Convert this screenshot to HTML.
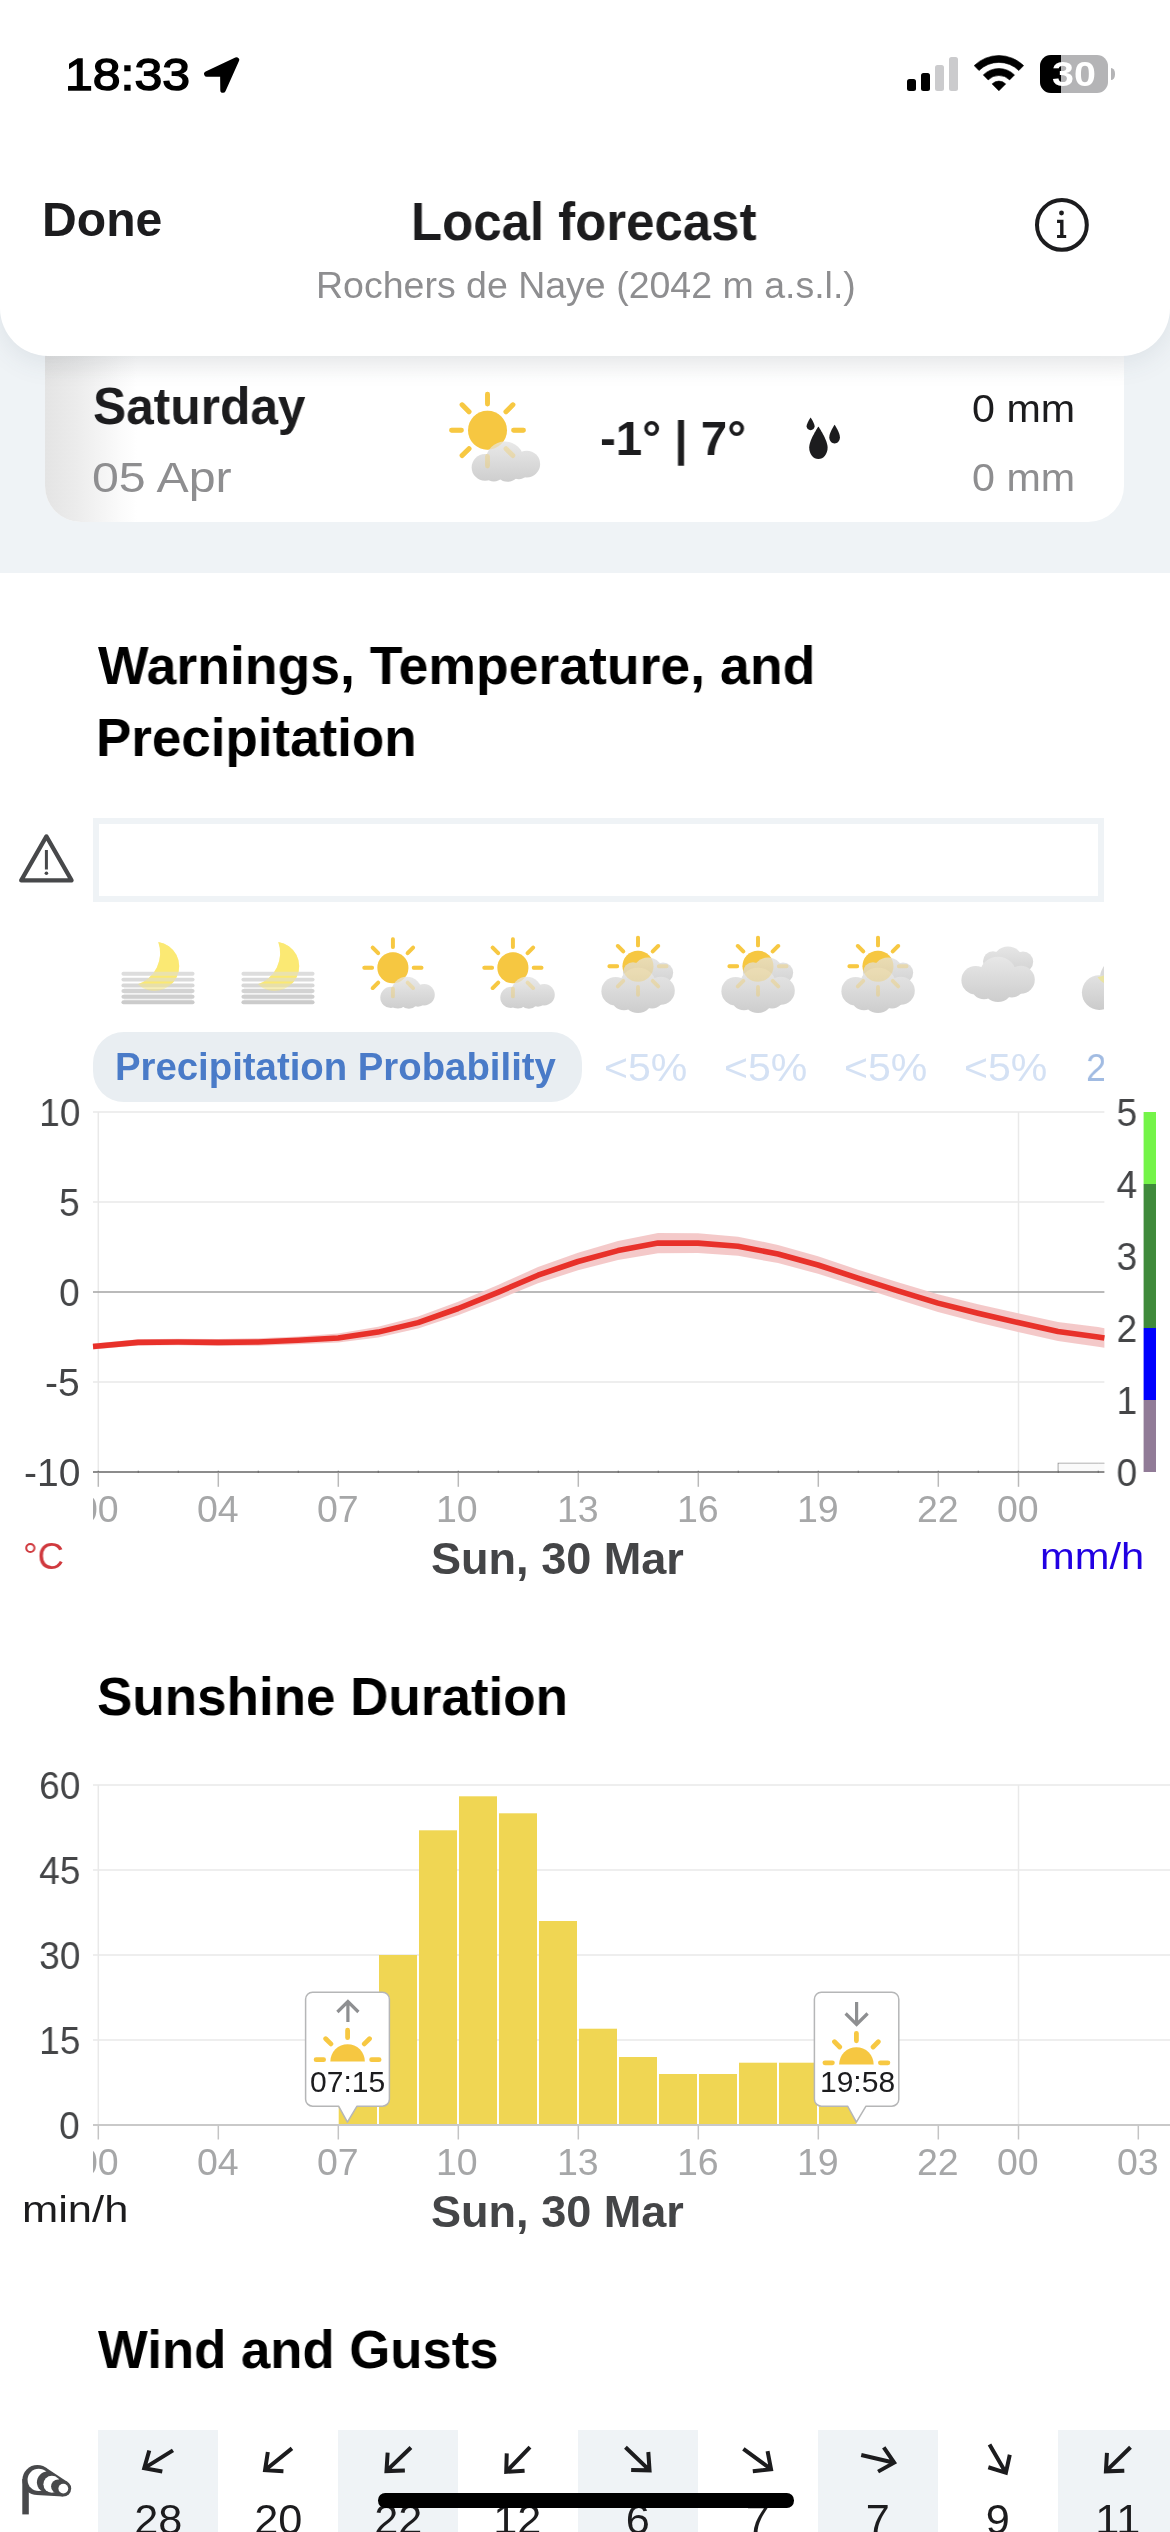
<!DOCTYPE html>
<html><head><meta charset="utf-8"><title>Local forecast</title>
<style>
html,body{margin:0;padding:0;background:#fff}
html{width:1170px;height:2532px;overflow:hidden}
body{width:1170px;height:2532px;position:relative;overflow:hidden;font-family:"Liberation Sans",sans-serif}
.w{position:absolute;left:0;top:0;width:1170px;height:2532px;overflow:hidden}
.t{position:absolute;white-space:nowrap;line-height:1;transform-origin:left center;will-change:transform}
</style></head><body>
<div class="w">
<div style="position:absolute;left:0;top:300px;width:1170px;height:272.800px;background:#eff3f6"></div>
<div style="position:absolute;left:45px;top:330px;width:1079px;height:191.5px;background:#fff;border-radius:0 0 36px 36px;overflow:hidden"><div style="position:absolute;left:0;top:0;width:92px;height:100%;background:linear-gradient(90deg,#e4e4e4 0%,#ececec 35%,#fafafa 80%,#fff 100%)"></div><div style="position:absolute;left:0;top:25px;width:100%;height:26px;background:linear-gradient(180deg,rgba(0,0,0,0.035),rgba(0,0,0,0))"></div></div>
<div style="position:absolute;left:0;top:-60px;width:1170px;height:415.5px;background:#fff;border-radius:0 0 48px 48px;box-shadow:0 6px 28px rgba(60,80,100,0.10)"></div>
<div class="t" style="left:65.11px;top:52.75px;font-size:44px;color:#000;transform:scaleX(1.1362);-webkit-text-stroke:1.400px #000;">18:33</div>
<svg style="position:absolute;left:203px;top:55px" width="40" height="40" viewBox="0 0 40 40"><path d="M33.500 4.900 L3.800 19 L19.800 19.100 L20 35.100 Z" fill="#000" stroke="#000" stroke-width="5.400" stroke-linejoin="round"/></svg>
<div style="position:absolute;left:907px;top:78.8px;width:9.3px;height:11.8px;background:#000;border-radius:2.5px"></div>
<div style="position:absolute;left:921.1px;top:73.3px;width:9.3px;height:17.3px;background:#000;border-radius:2.5px"></div>
<div style="position:absolute;left:935.1px;top:65.1px;width:9.3px;height:25.5px;background:#cbcbcd;border-radius:2.5px"></div>
<div style="position:absolute;left:949px;top:56.9px;width:9.3px;height:33.7px;background:#cbcbcd;border-radius:2.5px"></div>
<svg style="position:absolute;left:974px;top:53px" width="50" height="40" viewBox="0 0 50 40"><path d="M0.16 12.62A35.3 35.3 0 0 1 49.64 12.62L44.81 17.54A28.4 28.4 0 0 0 4.99 17.54ZM9.27 21.89A22.3 22.3 0 0 1 40.53 21.89L35.62 26.89A15.3 15.3 0 0 0 14.18 26.89ZM18.10 30.88A9.7 9.7 0 0 1 31.70 30.88L24.9 37.8Z" fill="#000" stroke="#000" stroke-width="0.600" stroke-linejoin="round"/></svg>
<div style="position:absolute;left:1040px;top:55px;width:68px;height:37.6px;border-radius:11px;background:#b4b4b6;overflow:hidden"><div style="position:absolute;left:0;top:0;width:20.5px;height:100%;background:#000"></div></div>
<div style="position:absolute;left:1111.200px;top:68.100px;width:4.300px;height:11.900px;background:#b4b4b6;border-radius:0 4.300px 4.300px 0 / 0 5.950px 5.950px 0"></div>
<div class="t" style="left:1051.54px;top:57.15px;font-size:34.2px;font-weight:700;color:#fff;transform:scaleX(1.1528);">30</div>
<div class="t" style="left:41.97px;top:195.57px;font-size:48px;font-weight:700;color:#1c1c1e;transform:scaleX(1.0022);">Done</div>
<div class="t" style="left:411.40px;top:193.79px;font-size:54px;font-weight:700;color:#1c1c1e;transform:scaleX(0.9436);">Local forecast</div>
<div class="t" style="left:315.51px;top:267.26px;font-size:37.5px;color:#8e8e90;">Rochers de Naye (2042 m a.s.l.)</div>
<svg style="position:absolute;left:1031px;top:194px" width="62" height="62" viewBox="0 0 62 62"><circle cx="30.900" cy="30.900" r="24.900" fill="none" stroke="#1c1c1e" stroke-width="4"/><circle cx="30.500" cy="19" r="2.450" fill="#1c1c1e"/><path d="M26.050 25.700H32.500V41.100H35.200V44H26.050V41.100H29.100V28.900H26.050Z" fill="#1c1c1e"/></svg>
<div class="t" style="left:93.27px;top:380.38px;font-size:52px;font-weight:700;color:#1c1c1e;transform:scaleX(0.9553);">Saturday</div>
<div class="t" style="left:92.48px;top:455.90px;font-size:43px;color:#8e8e90;transform:scaleX(1.1230);">05 Apr</div>
<div class="t" style="left:600.08px;top:413.92px;font-size:49px;font-weight:700;color:#1c1c1e;transform:scaleX(0.9687);">-1° | 7°</div>
<div class="t" style="left:971.51px;top:390.13px;font-size:38px;color:#1c1c1e;transform:scaleX(1.0849);">0 mm</div>
<div class="t" style="left:971.51px;top:458.53px;font-size:38px;color:#8e8e90;transform:scaleX(1.0849);">0 mm</div>
<svg width="0" height="0" style="position:absolute"><defs>
<linearGradient id="cgs" gradientUnits="userSpaceOnUse" x1="0" y1="9" x2="0" y2="41"><stop offset="0" stop-color="#e9e9e9"/><stop offset="1" stop-color="#cecece"/></linearGradient>
<linearGradient id="cg" gradientUnits="userSpaceOnUse" x1="0" y1="0" x2="0" y2="47"><stop offset="0" stop-color="#e8e8e8"/><stop offset="1" stop-color="#cdcdcd"/></linearGradient>
<linearGradient id="cg2" gradientUnits="userSpaceOnUse" x1="0" y1="-9" x2="0" y2="22"><stop offset="0" stop-color="#e6e6e6"/><stop offset="1" stop-color="#cfcfcf"/></linearGradient>
<linearGradient id="cgp" gradientUnits="userSpaceOnUse" x1="0" y1="975" x2="0" y2="1010"><stop offset="0" stop-color="#e2e2e2"/><stop offset="1" stop-color="#cbcbcb"/></linearGradient>
<g id="sun"><circle cx="0" cy="0" r="15.500" fill="#f6c741"/><path d="M20.80 0.00L28.60 0.00M14.71 -14.71L20.22 -20.22M0.00 -20.80L0.00 -28.60M-14.71 -14.71L-20.22 -20.22M-20.80 0.00L-28.60 0.00M-14.71 14.71L-20.22 20.22M0.00 20.80L0.00 28.60M14.71 14.71L20.22 20.22" stroke="#f7c842" stroke-width="3.900" stroke-linecap="round" fill="none"/></g>
<g id="smallcloud"><circle cx="-2" cy="29.600" r="10.600"/><circle cx="13.800" cy="24.200" r="15.200"/><circle cx="31.200" cy="27" r="10.700"/><circle cx="5" cy="31.500" r="9.300"/><circle cx="16" cy="31.300" r="9.700"/><circle cx="25" cy="30.500" r="8.500"/></g>
<g id="suncloud">
 <use href="#sun"/>
 <use href="#smallcloud" fill="url(#cgs)"/>
 <use href="#sun" opacity="0.3"/>
</g>
<g id="bigcloudshape"><circle cx="-22.300" cy="25" r="14.300"/><circle cx="0" cy="20" r="18.500"/><circle cx="22.800" cy="24.600" r="14"/><circle cx="0" cy="32" r="14.800"/><circle cx="-14" cy="31" r="13"/><circle cx="14" cy="29.700" r="12.500"/></g>
<g id="backcloudshape"><circle cx="10" cy="7" r="15.600"/><circle cx="-5" cy="6" r="10"/><circle cx="25" cy="6.500" r="10.200"/><rect x="-5" y="6" width="30" height="12"/></g>
<g id="sunbigcloud">
 <use href="#sun"/>
 <use href="#backcloudshape" fill="url(#cg2)"/>
 <use href="#bigcloudshape" fill="url(#cg)"/>
 <use href="#sun" opacity="0.3"/>
</g>
<g id="cloudonly">
 <use href="#backcloudshape" fill="url(#cg2)"/>
 <use href="#bigcloudshape" fill="url(#cg)"/>
</g>
<g id="moon"><path d="M0.300 -24 A24.600 24.600 0 1 1 -20.200 18.300 A33 33 0 0 0 0.300 -24 Z" fill="#fbe974"/></g>
<g id="moonfog">
 <use href="#moon"/>
 <rect x="-34" y="20.500" width="68" height="17" fill="#f3f3f3"/>
 <g stroke-width="3.900" stroke-linecap="round">
 <path d="M-34.600 7.800H34.600" stroke="#dddddd"/><path d="M-34.600 13.600H34.600" stroke="#dadada"/><path d="M-34.600 19.400H34.600" stroke="#d7d7d7"/>
 <path d="M-34.600 25H34.600" stroke="#d3d3d3"/><path d="M-34.600 30.700H34.600" stroke="#cfcfcf"/><path d="M-34.600 36.200H34.600" stroke="#cbcbcb"/></g>
 <use href="#moon" opacity="0.45"/>
</g>
</defs></svg>
<svg style="position:absolute;left:430px;top:370px" width="140" height="140" viewBox="0 0 140 140"><use href="#suncloud" transform="translate(57.500 60.200) scale(1.256)"/></svg>
<svg style="position:absolute;left:800px;top:410px" width="50" height="56" viewBox="0 0 50 56"><path d="M18.400 16.500 C18.400 16.500 9.200 30 9.200 37.400 C9.200 44 13.300 49 18.400 49 C23.500 49 27.600 44 27.600 37.400 C27.600 30 18.400 16.500 18.400 16.500 Z" fill="#1c1c1e"/><path d="M10.600 7.600 C10.600 7.600 6.600 13.500 6.600 16.300 C6.600 18.600 8.400 20.200 10.600 20.200 C12.800 20.200 14.600 18.600 14.600 16.300 C14.600 13.500 10.600 7.600 10.600 7.600 Z" fill="#1c1c1e"/><path d="M34.600 14.800 C34.600 14.800 29.300 22.800 29.300 27.200 C29.300 30.800 31.700 33.400 34.600 33.400 C37.500 33.400 39.900 30.800 39.900 27.200 C39.900 22.800 34.600 14.800 34.600 14.800 Z" fill="#1c1c1e"/></svg>
<div class="t" style="left:97.50px;top:637.99px;font-size:54px;font-weight:700;color:#000;transform:scaleX(0.9919);">Warnings, Temperature, and</div>
<div class="t" style="left:96.07px;top:709.79px;font-size:54px;font-weight:700;color:#000;transform:scaleX(0.9804);">Precipitation</div>
<svg style="position:absolute;left:14px;top:828px" width="66" height="60" viewBox="0 0 66 60"><path d="M32.400 8.400 L57.600 52.400 H7.200 Z" fill="none" stroke="#47484a" stroke-width="4.200" stroke-linejoin="round"/><path d="M32.400 22 V41.500" stroke="#47484a" stroke-width="3" fill="none"/><circle cx="32.400" cy="45.300" r="1.800" fill="#47484a"/></svg>
<div style="position:absolute;left:93px;top:818px;width:1011px;height:84px;box-sizing:border-box;border:6px solid #eff3f6;background:#fff"></div>
<svg style="position:absolute;left:93px;top:925px" width="1011" height="100" viewBox="93 925 1011 100"><use href="#moonfog" transform="translate(158 966)"/><use href="#moonfog" transform="translate(278 966)"/><use href="#suncloud" transform="translate(392.9 967.800)"/><use href="#suncloud" transform="translate(512.9 967.800)"/><use href="#sunbigcloud" transform="translate(638 966.200)"/><use href="#sunbigcloud" transform="translate(758 966.200)"/><use href="#sunbigcloud" transform="translate(878 966.200)"/><use href="#cloudonly" transform="translate(998 955.200)"/><path d="M1100 976 C1100.800 971 1102.500 968 1104 966 V980 H1100 Z" fill="#d9d9d9"/><circle cx="1099.200" cy="992.600" r="17.300" fill="url(#cgp)"/><path d="M1097.600 977.300 L1104 975.600 V983 C1101 981.500 1099 979.500 1097.600 977.300 Z" fill="#e9e3a2"/></svg>
<div style="position:absolute;left:92.500px;top:1032px;width:489.700px;height:70.400px;border-radius:31px;background:#e9eef2"></div>
<div class="t" style="left:115.48px;top:1048.03px;font-size:38px;font-weight:700;color:#4a7bc8;transform:scaleX(1.0087);">Precipitation Probability</div>
<div class="t" style="left:604.05px;top:1048.06px;font-size:39.5px;color:#d4e1f4;transform:scaleX(1.0393);">&lt;5%</div>
<div class="t" style="left:724.05px;top:1048.06px;font-size:39.5px;color:#d4e1f4;transform:scaleX(1.0393);">&lt;5%</div>
<div class="t" style="left:844.05px;top:1048.06px;font-size:39.5px;color:#d4e1f4;transform:scaleX(1.0393);">&lt;5%</div>
<div class="t" style="left:964.05px;top:1048.06px;font-size:39.5px;color:#d4e1f4;transform:scaleX(1.0393);">&lt;5%</div>
<div style="position:absolute;left:1080px;top:1040px;width:24px;height:60px;overflow:hidden"><div class="t" style="left:6px;top:8.100px;font-size:39.500px;color:#a1bbe2;transform:scaleX(0.93)">25%</div></div>
<svg style="position:absolute;left:0;top:1100px" width="1170" height="400" viewBox="0 1100 1170 400"><path d="M93 1112H1104.400" stroke="#e9e9e9" stroke-width="1.600"/><path d="M93 1202H1104.400" stroke="#e9e9e9" stroke-width="1.600"/><path d="M93 1382H1104.400" stroke="#e9e9e9" stroke-width="1.600"/><path d="M98.300 1112V1472" stroke="#e9e9e9" stroke-width="1.500"/><path d="M1018.500 1112V1472" stroke="#e9e9e9" stroke-width="1.500"/><path d="M93 1292H1104.400" stroke="#a3a3a3" stroke-width="1.700"/><polygon points="93.0,1343.6 138.1,1339.3 178.1,1338.7 218.1,1338.9 258.1,1338.3 298.1,1336.4 338.1,1333.4 378.1,1326.8 418.1,1316.6 458.1,1301.8 498.0,1284.9 538.0,1267.1 578.0,1252.7 618.0,1241.1 658.0,1232.9 698.0,1233.2 738.0,1236.7 778.0,1244.9 818.0,1256.2 858.0,1269.7 898.0,1282.2 938.0,1294.3 978.0,1304.2 1018.0,1313.3 1058.0,1322.0 1098.0,1327.1 1104.4,1328.2 1104.4,1347.8 1098.0,1346.7 1058.0,1341.0 1018.0,1331.9 978.0,1322.4 938.0,1311.9 898.0,1299.4 858.0,1286.5 818.0,1273.8 778.0,1263.1 738.0,1255.7 698.0,1253.0 658.0,1253.3 618.0,1260.1 578.0,1270.3 538.0,1283.3 498.0,1299.7 458.1,1315.2 418.1,1328.6 378.1,1337.4 338.1,1342.6 298.1,1344.2 258.1,1345.7 218.1,1345.9 178.1,1345.3 138.1,1345.5 93.0,1349.4" fill="#f3c4c4" opacity="0.92"/><polyline points="93.0,1346.5 138.1,1342.4 178.1,1342.0 218.1,1342.4 258.1,1342.0 298.1,1340.3 338.1,1338.0 378.1,1332.1 418.1,1322.6 458.1,1308.5 498.0,1292.3 538.0,1275.2 578.0,1261.5 618.0,1250.6 658.0,1243.1 698.0,1243.1 738.0,1246.2 778.0,1254.0 818.0,1265.0 858.0,1278.1 898.0,1290.8 938.0,1303.1 978.0,1313.3 1018.0,1322.6 1058.0,1331.5 1098.0,1336.9 1104.4,1338.0" fill="none" stroke="#e8312a" stroke-width="5.600" stroke-linejoin="round"/><path d="M1058.200 1472V1463.200H1104.400" fill="none" stroke="#9a9a9a" stroke-width="1.100"/><path d="M1098.700 1463.200V1472" stroke="#bdbdbd" stroke-width="1"/><rect x="1058.700" y="1463.700" width="45.700" height="8" fill="#fafafa"/><path d="M93 1472H1104.400" stroke="#8c8c8c" stroke-width="1.800"/><path d="M98.3 1470.800V1473" stroke="#707070" stroke-width="1.200"/><path d="M138.3 1470.800V1473" stroke="#707070" stroke-width="1.200"/><path d="M178.3 1470.800V1473" stroke="#707070" stroke-width="1.200"/><path d="M218.3 1470.800V1473" stroke="#707070" stroke-width="1.200"/><path d="M258.3 1470.800V1473" stroke="#707070" stroke-width="1.200"/><path d="M298.3 1470.800V1473" stroke="#707070" stroke-width="1.200"/><path d="M338.3 1470.800V1473" stroke="#707070" stroke-width="1.200"/><path d="M378.3 1470.800V1473" stroke="#707070" stroke-width="1.200"/><path d="M418.3 1470.800V1473" stroke="#707070" stroke-width="1.200"/><path d="M458.3 1470.800V1473" stroke="#707070" stroke-width="1.200"/><path d="M498.3 1470.800V1473" stroke="#707070" stroke-width="1.200"/><path d="M538.3 1470.800V1473" stroke="#707070" stroke-width="1.200"/><path d="M578.3 1470.800V1473" stroke="#707070" stroke-width="1.200"/><path d="M618.3 1470.800V1473" stroke="#707070" stroke-width="1.200"/><path d="M658.3 1470.800V1473" stroke="#707070" stroke-width="1.200"/><path d="M698.3 1470.800V1473" stroke="#707070" stroke-width="1.200"/><path d="M738.3 1470.800V1473" stroke="#707070" stroke-width="1.200"/><path d="M778.3 1470.800V1473" stroke="#707070" stroke-width="1.200"/><path d="M818.3 1470.800V1473" stroke="#707070" stroke-width="1.200"/><path d="M858.3 1470.800V1473" stroke="#707070" stroke-width="1.200"/><path d="M898.3 1470.800V1473" stroke="#707070" stroke-width="1.200"/><path d="M938.3 1470.800V1473" stroke="#707070" stroke-width="1.200"/><path d="M978.3 1470.800V1473" stroke="#707070" stroke-width="1.200"/><path d="M1018.3 1470.800V1473" stroke="#707070" stroke-width="1.200"/><path d="M1058.3 1470.800V1473" stroke="#707070" stroke-width="1.200"/><path d="M1098.3 1470.800V1473" stroke="#707070" stroke-width="1.200"/><path d="M98.3 1472.500V1486.800" stroke="#b9b9b9" stroke-width="1.500"/><path d="M218.3 1472.500V1486.800" stroke="#b9b9b9" stroke-width="1.500"/><path d="M338.3 1472.500V1486.800" stroke="#b9b9b9" stroke-width="1.500"/><path d="M458.3 1472.500V1486.800" stroke="#b9b9b9" stroke-width="1.500"/><path d="M578.3 1472.500V1486.800" stroke="#b9b9b9" stroke-width="1.500"/><path d="M698.3 1472.500V1486.800" stroke="#b9b9b9" stroke-width="1.500"/><path d="M818.3 1472.500V1486.800" stroke="#b9b9b9" stroke-width="1.500"/><path d="M938.3 1472.500V1486.800" stroke="#b9b9b9" stroke-width="1.500"/><path d="M1018.5 1472.500V1486.800" stroke="#b9b9b9" stroke-width="1.500"/><rect x="1143.600" y="1112" width="12.400" height="72" fill="#74f448"/><rect x="1143.600" y="1184" width="12.400" height="144" fill="#3f8a3b"/><rect x="1143.600" y="1328" width="12.400" height="72" fill="#0000fe"/><rect x="1143.600" y="1400" width="12.400" height="72" fill="#917b97"/></svg>
<div class="t" style="left:36.60px;top:1092.69px;font-size:39px;color:#444547;transform-origin:right center;transform:scaleX(0.95);">10</div>
<div class="t" style="left:58.47px;top:1182.69px;font-size:39px;color:#444547;transform-origin:right center;transform:scaleX(0.95);">5</div>
<div class="t" style="left:58.35px;top:1272.69px;font-size:39px;color:#444547;transform-origin:right center;transform:scaleX(0.95);">0</div>
<div class="t" style="left:45.47px;top:1362.69px;font-size:39px;color:#444547;transform-origin:right center;transform:scaleX(1.0);">-5</div>
<div class="t" style="left:23.72px;top:1452.69px;font-size:39px;color:#444547;transform-origin:right center;transform:scaleX(1.0);">-10</div>
<div class="t" style="left:1116.19px;top:1092.69px;font-size:39px;color:#444547;transform-origin:center;transform:scaleX(0.95);">5</div>
<div class="t" style="left:1116.25px;top:1164.69px;font-size:39px;color:#444547;transform-origin:center;transform:scaleX(0.95);">4</div>
<div class="t" style="left:1116.31px;top:1236.69px;font-size:39px;color:#444547;transform-origin:center;transform:scaleX(0.95);">3</div>
<div class="t" style="left:1116.19px;top:1308.69px;font-size:39px;color:#444547;transform-origin:center;transform:scaleX(0.95);">2</div>
<div class="t" style="left:1115.62px;top:1380.69px;font-size:39px;color:#444547;transform-origin:center;transform:scaleX(0.95);">1</div>
<div class="t" style="left:1116.12px;top:1452.69px;font-size:39px;color:#444547;transform-origin:center;transform:scaleX(0.95);">0</div>
<div style="position:absolute;left:93px;top:1483px;width:1011px;height:60px;overflow:hidden"><div class="t" style="left:-15.88px;top:8.26px;font-size:37.500px;color:#a6a7a8;transform-origin:center;transform:scaleX(1.0)">00</div><div class="t" style="left:103.94px;top:8.26px;font-size:37.500px;color:#a6a7a8;transform-origin:center;transform:scaleX(1.0)">04</div><div class="t" style="left:224.38px;top:8.26px;font-size:37.500px;color:#a6a7a8;transform-origin:center;transform:scaleX(1.0)">07</div><div class="t" style="left:343.44px;top:8.26px;font-size:37.500px;color:#a6a7a8;transform-origin:center;transform:scaleX(1.0)">10</div><div class="t" style="left:463.56px;top:8.26px;font-size:37.500px;color:#a6a7a8;transform-origin:center;transform:scaleX(1.0)">13</div><div class="t" style="left:583.56px;top:8.26px;font-size:37.500px;color:#a6a7a8;transform-origin:center;transform:scaleX(1.0)">16</div><div class="t" style="left:703.62px;top:8.26px;font-size:37.500px;color:#a6a7a8;transform-origin:center;transform:scaleX(1.0)">19</div><div class="t" style="left:824.12px;top:8.26px;font-size:37.500px;color:#a6a7a8;transform-origin:center;transform:scaleX(1.0)">22</div><div class="t" style="left:904.12px;top:8.26px;font-size:37.500px;color:#a6a7a8;transform-origin:center;transform:scaleX(1.0)">00</div></div>
<div class="t" style="left:23.23px;top:1537.96px;font-size:37.5px;color:#d0393e;transform:scaleX(0.9735);">°C</div>
<div class="t" style="left:430.93px;top:1537.13px;font-size:44.5px;font-weight:700;color:#444547;transform:scaleX(1.0125);">Sun, 30 Mar</div>
<div class="t" style="left:1040.49px;top:1539.10px;font-size:36.5px;color:#2100e2;transform:scaleX(1.1417);">mm/h</div>
<div class="t" style="left:96.93px;top:1668.69px;font-size:54px;font-weight:700;color:#000;transform:scaleX(0.9812);">Sunshine Duration</div>
<svg style="position:absolute;left:0;top:1770px" width="1170" height="380" viewBox="0 1770 1170 380"><path d="M93 1785H1170" stroke="#e9e9e9" stroke-width="1.600"/><path d="M93 1870H1170" stroke="#e9e9e9" stroke-width="1.600"/><path d="M93 1955H1170" stroke="#e9e9e9" stroke-width="1.600"/><path d="M93 2040H1170" stroke="#e9e9e9" stroke-width="1.600"/><path d="M98.300 1785V2125" stroke="#e9e9e9" stroke-width="1.500"/><path d="M1018.500 1785V2125" stroke="#e9e9e9" stroke-width="1.500"/><rect x="338.7" y="2096.7" width="38.3" height="28.3" fill="#f0d653"/><rect x="379.0" y="1955.0" width="38.0" height="170.0" fill="#f0d653"/><rect x="419.0" y="1830.3" width="38.0" height="294.7" fill="#f0d653"/><rect x="459.0" y="1796.3" width="38.0" height="328.7" fill="#f0d653"/><rect x="499.0" y="1813.3" width="38.0" height="311.7" fill="#f0d653"/><rect x="539.0" y="1921.0" width="38.0" height="204.0" fill="#f0d653"/><rect x="579.0" y="2028.7" width="38.0" height="96.3" fill="#f0d653"/><rect x="619.0" y="2057.0" width="38.0" height="68.0" fill="#f0d653"/><rect x="659.0" y="2074.0" width="38.0" height="51.0" fill="#f0d653"/><rect x="699.0" y="2074.0" width="38.0" height="51.0" fill="#f0d653"/><rect x="739.0" y="2062.7" width="38.0" height="62.3" fill="#f0d653"/><rect x="779.0" y="2062.7" width="38.0" height="62.3" fill="#f0d653"/><path d="M819 2125V2085H848L856.400 2122.600V2125Z" fill="#f0d653"/><path d="M93 2125H1170" stroke="#c9c9c9" stroke-width="1.800"/><path d="M98.3 2125.500V2139.500" stroke="#c4c4c4" stroke-width="1.500"/><path d="M218.3 2125.500V2139.500" stroke="#c4c4c4" stroke-width="1.500"/><path d="M338.3 2125.500V2139.500" stroke="#c4c4c4" stroke-width="1.500"/><path d="M458.3 2125.500V2139.500" stroke="#c4c4c4" stroke-width="1.500"/><path d="M578.3 2125.500V2139.500" stroke="#c4c4c4" stroke-width="1.500"/><path d="M698.3 2125.500V2139.500" stroke="#c4c4c4" stroke-width="1.500"/><path d="M818.3 2125.500V2139.500" stroke="#c4c4c4" stroke-width="1.500"/><path d="M938.3 2125.500V2139.500" stroke="#c4c4c4" stroke-width="1.500"/><path d="M1018.5 2125.500V2139.500" stroke="#c4c4c4" stroke-width="1.500"/><path d="M1138.3 2125.500V2139.500" stroke="#c4c4c4" stroke-width="1.500"/><path d="M312.6 1992.2H382.4A7 7 0 0 1 389.4 1999.2V2099.2A7 7 0 0 1 382.4 2106.2H357.0L347.4 2122.200L338.59999999999997 2106.2H312.6A7 7 0 0 1 305.6 2099.2V1999.2A7 7 0 0 1 312.6 1992.2Z" fill="#fff" stroke="#b5b6b7" stroke-width="1.500" stroke-linejoin="round"/><path d="M821.4 1992.2H891.8A7 7 0 0 1 898.8 1999.2V2099.2A7 7 0 0 1 891.8 2106.2H866.0L856.4 2122.200L847.6 2106.2H821.4A7 7 0 0 1 814.4 2099.2V1999.2A7 7 0 0 1 821.4 1992.2Z" fill="#fff" stroke="#b5b6b7" stroke-width="1.500" stroke-linejoin="round"/><path d="M330.3 2061.5A17.3 17.3 0 0 1 364.90000000000003 2061.5Z" fill="#f6c741"/><path d="M347.6 2030.2V2037.7M325.70000000000005 2038.7L330.90000000000003 2043.9M369.5 2038.7L364.3 2043.9M316.1 2059.7H323.6M379.1 2059.7H371.6" stroke="#f7c842" stroke-width="4.800" stroke-linecap="round" fill="none"/><path d="M839.1 2064.6A17.3 17.3 0 0 1 873.6999999999999 2064.6Z" fill="#f6c741"/><path d="M856.4 2033.3V2040.8M834.5 2041.8L839.6999999999999 2047.0M878.3 2041.8L873.1 2047.0M824.9 2062.7999999999997H832.4M887.9 2062.7999999999997H880.4" stroke="#f7c842" stroke-width="4.800" stroke-linecap="round" fill="none"/><path d="M347.900 2022V2002.500M337.400 2012L347.900 2001.500L358.400 2012" fill="none" stroke="#8e8f91" stroke-width="3.200"/><path d="M856.600 2002V2023.500M845.600 2013.500L856.600 2024.500L867.600 2013.500" fill="none" stroke="#8e8f91" stroke-width="3.200"/></svg>
<div class="t" style="left:36.60px;top:1765.69px;font-size:39px;color:#444547;transform-origin:right center;transform:scaleX(0.95);">60</div>
<div class="t" style="left:36.72px;top:1850.69px;font-size:39px;color:#444547;transform-origin:right center;transform:scaleX(0.95);">45</div>
<div class="t" style="left:36.60px;top:1935.69px;font-size:39px;color:#444547;transform-origin:right center;transform:scaleX(0.95);">30</div>
<div class="t" style="left:36.72px;top:2020.69px;font-size:39px;color:#444547;transform-origin:right center;transform:scaleX(0.95);">15</div>
<div class="t" style="left:58.35px;top:2105.69px;font-size:39px;color:#444547;transform-origin:right center;transform:scaleX(0.95);">0</div>
<div style="position:absolute;left:93px;top:2136px;width:1077px;height:60px;overflow:hidden"><div class="t" style="left:-15.88px;top:8.26px;font-size:37.500px;color:#a6a7a8;transform-origin:center;transform:scaleX(1.0)">00</div><div class="t" style="left:103.94px;top:8.26px;font-size:37.500px;color:#a6a7a8;transform-origin:center;transform:scaleX(1.0)">04</div><div class="t" style="left:224.38px;top:8.26px;font-size:37.500px;color:#a6a7a8;transform-origin:center;transform:scaleX(1.0)">07</div><div class="t" style="left:343.44px;top:8.26px;font-size:37.500px;color:#a6a7a8;transform-origin:center;transform:scaleX(1.0)">10</div><div class="t" style="left:463.56px;top:8.26px;font-size:37.500px;color:#a6a7a8;transform-origin:center;transform:scaleX(1.0)">13</div><div class="t" style="left:583.56px;top:8.26px;font-size:37.500px;color:#a6a7a8;transform-origin:center;transform:scaleX(1.0)">16</div><div class="t" style="left:703.62px;top:8.26px;font-size:37.500px;color:#a6a7a8;transform-origin:center;transform:scaleX(1.0)">19</div><div class="t" style="left:824.12px;top:8.26px;font-size:37.500px;color:#a6a7a8;transform-origin:center;transform:scaleX(1.0)">22</div><div class="t" style="left:904.12px;top:8.26px;font-size:37.500px;color:#a6a7a8;transform-origin:center;transform:scaleX(1.0)">00</div><div class="t" style="left:1024.25px;top:8.26px;font-size:37.500px;color:#a6a7a8;transform-origin:center;transform:scaleX(1.0)">03</div></div>
<div class="t" style="left:22.47px;top:2191.50px;font-size:36.5px;color:#1c1c1e;transform:scaleX(1.1911);">min/h</div>
<div class="t" style="left:430.93px;top:2189.83px;font-size:44.5px;font-weight:700;color:#444547;transform:scaleX(1.0125);">Sun, 30 Mar</div>
<div class="t" style="left:310.07px;top:2066.91px;font-size:30px;color:#1c1c1e;transform:scaleX(1.0021);">07:15</div>
<div class="t" style="left:820.26px;top:2066.91px;font-size:30px;color:#1c1c1e;transform:scaleX(0.9955);">19:58</div>
<div class="t" style="left:98.20px;top:2321.99px;font-size:54px;font-weight:700;color:#000;transform:scaleX(0.9758);">Wind and Gusts</div>
<div style="position:absolute;left:98px;top:2430px;width:120px;height:102px;background:#eff3f6"></div>
<div style="position:absolute;left:338px;top:2430px;width:120px;height:102px;background:#eff3f6"></div>
<div style="position:absolute;left:578px;top:2430px;width:120px;height:102px;background:#eff3f6"></div>
<div style="position:absolute;left:818px;top:2430px;width:120px;height:102px;background:#eff3f6"></div>
<div style="position:absolute;left:1058px;top:2430px;width:112px;height:102px;background:#eff3f6"></div>
<svg style="position:absolute;left:0;top:2430px" width="1170" height="102" viewBox="0 2430 1170 102"><g transform="translate(158.6 2459.3) rotate(148.3)"><path d="M-16.9 0H15.9M3.3 -12.400L16.9 0L3.3 12.400" fill="none" stroke="#1c1c1e" stroke-width="4" stroke-linejoin="miter"/></g><g transform="translate(278.5 2459.3) rotate(141)"><path d="M-17.3 0H16.3M3.7 -12.400L17.3 0L3.7 12.400" fill="none" stroke="#1c1c1e" stroke-width="4" stroke-linejoin="miter"/></g><g transform="translate(398.7 2459.3) rotate(136)"><path d="M-17.0 0H16.0M3.4 -12.400L17.0 0L3.4 12.400" fill="none" stroke="#1c1c1e" stroke-width="4" stroke-linejoin="miter"/></g><g transform="translate(518.1 2459.5) rotate(134)"><path d="M-17.1 0H16.1M3.5 -12.400L17.1 0L3.5 12.400" fill="none" stroke="#1c1c1e" stroke-width="4" stroke-linejoin="miter"/></g><g transform="translate(637.5 2458.8) rotate(43.8)"><path d="M-16.7 0H15.7M3.1 -12.400L16.7 0L3.1 12.400" fill="none" stroke="#1c1c1e" stroke-width="4" stroke-linejoin="miter"/></g><g transform="translate(757.2 2459) rotate(36.5)"><path d="M-17.2 0H16.2M3.7 -12.400L17.2 0L3.7 12.400" fill="none" stroke="#1c1c1e" stroke-width="4" stroke-linejoin="miter"/></g><g transform="translate(877.7 2458.8) rotate(13.2)"><path d="M-16.9 0H15.9M3.3 -12.400L16.9 0L3.3 12.400" fill="none" stroke="#1c1c1e" stroke-width="4" stroke-linejoin="miter"/></g><g transform="translate(997.7 2458.7) rotate(59.8)"><path d="M-16.3 0H15.3M2.7 -12.400L16.3 0L2.7 12.400" fill="none" stroke="#1c1c1e" stroke-width="4" stroke-linejoin="miter"/></g><g transform="translate(1118.2 2459.3) rotate(135.6)"><path d="M-17.2 0H16.2M3.6 -12.400L17.2 0L3.6 12.400" fill="none" stroke="#1c1c1e" stroke-width="4" stroke-linejoin="miter"/></g><g fill="#48494b"><rect x="22.300" y="2479" width="6.500" height="35.400"/><circle cx="37.35" cy="2480.1" r="15.0"/><circle cx="63.3" cy="2488.6" r="7.9"/><path d="M45.6 2467.5L67.6 2482.0L62.9 2496.5L36.5 2495.1Z"/></g><circle cx="38.700" cy="2479.900" r="11.100" fill="#fff"/><circle cx="47.600" cy="2482.300" r="10.700" fill="#48494b"/><circle cx="51.900" cy="2484.300" r="8.500" fill="#fff"/><circle cx="58" cy="2486.400" r="6.900" fill="#48494b"/><circle cx="63.300" cy="2488.600" r="4.900" fill="#fff"/></svg>
<div class="t" style="left:134.70px;top:2499.45px;font-size:42px;color:#1c1c1e;transform-origin:center;transform:scaleX(1.03);">28</div>
<div class="t" style="left:254.64px;top:2499.45px;font-size:42px;color:#1c1c1e;transform-origin:center;transform:scaleX(1.03);">20</div>
<div class="t" style="left:374.69px;top:2499.45px;font-size:42px;color:#1c1c1e;transform-origin:center;transform:scaleX(1.03);">22</div>
<div class="t" style="left:494.12px;top:2499.45px;font-size:42px;color:#1c1c1e;transform-origin:center;transform:scaleX(1.03);">12</div>
<div class="t" style="left:626.12px;top:2499.45px;font-size:42px;color:#1c1c1e;transform-origin:center;transform:scaleX(1.03);">6</div>
<div class="t" style="left:746.31px;top:2499.45px;font-size:42px;color:#1c1c1e;transform-origin:center;transform:scaleX(1.03);">7</div>
<div class="t" style="left:866.31px;top:2499.45px;font-size:42px;color:#1c1c1e;transform-origin:center;transform:scaleX(1.03);">7</div>
<div class="t" style="left:986.38px;top:2499.45px;font-size:42px;color:#1c1c1e;transform-origin:center;transform:scaleX(1.03);">9</div>
<div class="t" style="left:1095.62px;top:2499.45px;font-size:42px;color:#1c1c1e;transform-origin:center;transform:scaleX(1.03);">11</div>
<div style="position:absolute;left:377.600px;top:2493.400px;width:416.200px;height:14.300px;border-radius:7.200px;background:#000"></div>
</div>
</body></html>
